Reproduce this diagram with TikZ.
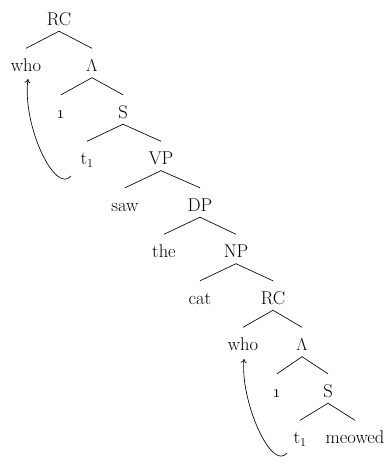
\documentclass[tikz,border=0pt]{standalone}
\usetikzlibrary{arrows.meta}
\begin{document}
\begin{tikzpicture}[x=1pt,y=-1pt,
  lbl/.style={anchor=base,font=\fontsize{18.5}{22}\selectfont,text height=17pt,text depth=0pt,inner ysep=6pt,inner xsep=1pt},
  br/.style={line width=0.65pt},
  mv/.style={-{To[length=4pt,width=6pt]},line width=0.65pt}]
\useasboundingbox (0,0) rectangle (391,466);
\node[lbl] (rcA) at (59,25) {RC};
\node[lbl] (whoA) at (26,71.5) {who};
\node[lbl] (lamA) at (92,71.5) {$\Lambda$};
\node[lbl] (oneA) at (61,118) {\oldstylenums{1}};
\node[lbl] (sA) at (123,118) {S};
\node[lbl] (tA) at (87,164.5) {t$_1$};
\node[lbl] (vp) at (161,164.5) {VP};
\node[lbl] (saw) at (125,211) {saw};
\node[lbl] (dp) at (200,211) {DP};
\node[lbl] (the) at (164,257.5) {the};
\node[lbl] (np) at (236,257.5) {NP};
\node[lbl] (cat) at (200,304) {cat};
\node[lbl] (rcB) at (273,304) {RC};
\node[lbl] (whoB) at (243,350.5) {who};
\node[lbl] (lamB) at (302,350.5) {$\Lambda$};
\node[lbl] (oneB) at (277,397) {\oldstylenums{1}};
\node[lbl] (sB) at (328,397) {S};
\node[lbl] (tB) at (300,443.5) {t$_1$};
\node[lbl] (meowed) at (355,443.5) {meowed};
\foreach \p/\c in {rcA/whoA,rcA/lamA,lamA/oneA,lamA/sA,sA/tA,sA/vp,vp/saw,vp/dp,dp/the,dp/np,np/cat,np/rcB,rcB/whoB,rcB/lamB,lamB/oneB,lamB/sB,sB/tB,sB/meowed}
  \draw[br] (\p.south) -- (\c.north);
\coordinate (sA1) at (71,176);
\coordinate (eA1) at (28,79);
\draw[mv] (sA1) .. controls (55,195) and (22,125) .. (eA1);
\coordinate (sB1) at (287,453);
\coordinate (eB1) at (244,359);
\draw[mv] (sB1) .. controls (271,472) and (240,400) .. (eB1);
\end{tikzpicture}
\end{document}
